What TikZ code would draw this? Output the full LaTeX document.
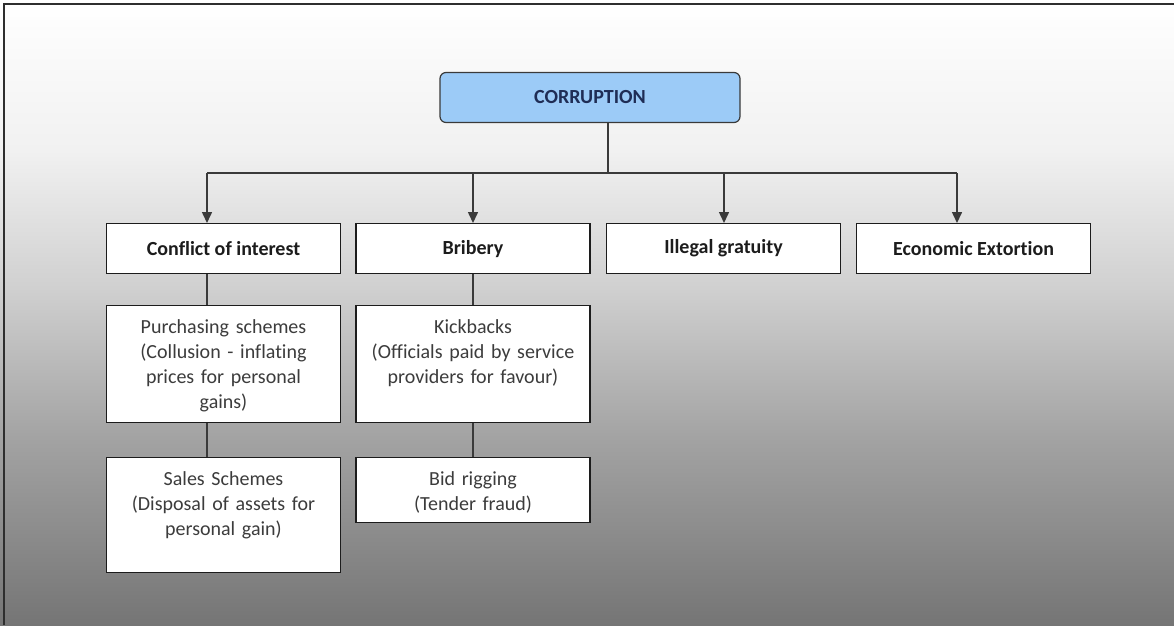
\documentclass[tikz,border=0pt]{standalone}
\usepackage{fontspec}
\setmainfont{Carlito}[Ligatures=NoCommon]
\usepackage{tikz}
\usetikzlibrary{arrows.meta, calc}
\usepackage{xcolor}
\definecolor{lineGray}{HTML}{3A3A3A}
\definecolor{frameGray}{HTML}{2E2E2E}
\definecolor{textGray}{HTML}{3C3C3C}
\definecolor{textDark}{HTML}{1C1C1C}
\definecolor{textNavy}{HTML}{1F2D55}
\definecolor{headBlue}{HTML}{9CCBF7}
\definecolor{shadeHigh}{HTML}{F1F1F1}
\definecolor{shadeMid}{HTML}{D0D0D0}
\definecolor{shadeLow}{HTML}{A3A3A3}
\definecolor{shadeBottom}{HTML}{757575}
\pgfdeclareverticalshading{PageShade}{100bp}{color(0bp)=(shadeBottom); color(25bp)=(shadeBottom); color(40bp)=(shadeLow); color(52bp)=(shadeMid); color(63bp)=(shadeHigh); color(75bp)=(white); color(100bp)=(white)}
\tikzset{
    BoxText/.style={font=\fontsize{20}{25}\selectfont},
    HeadBox/.style={BoxText, draw=lineGray, line width=1.2pt, fill=headBlue, rounded corners=6pt,
        minimum width=300pt, minimum height=50pt, inner sep=0pt, text=textNavy, font=\fontsize{20}{25}\selectfont\bfseries},
    TypeBox/.style={draw=textDark, line width=1.2pt, fill=white, minimum width=234pt, minimum height=50pt,
        inner sep=0pt, anchor=north, text=textDark, font=\fontsize{20}{25}\selectfont\bfseries},
    SchemeBox/.style={BoxText, draw=textDark, line width=1.2pt, fill=white, text width=234pt, align=center,
        inner sep=0pt, anchor=north, text=textGray, text height=27.5pt},
    LinkLine/.style={draw=lineGray, line width=1.5pt},
    LinkArrow/.style={LinkLine, -{Triangle[width=10pt, length=11pt]}}
}
\begin{document}
\begin{tikzpicture}[x=1pt, y=-1pt]
    % --- background page with grey fade ---
    \path[shading=PageShade] (0,0) rectangle (1174,625);
    \useasboundingbox (0,0) rectangle (1174,625);
    \draw[frameGray, line width=1.6pt] (4,625) -- (4,4) -- (1174,4);

    % top node
    \node[HeadBox] (corr) at (590, 97.5) {CORRUPTION};

    % types of corruption
    \node[TypeBox] (coi) at (223.5, 223) {Conflict of interest};
    \node[TypeBox] (brib) at (473, 223) {Bribery};
    \node[TypeBox] (grat) at (723.5, 223) {Illegal gratuity};
    \node[TypeBox] (ext) at (973.5, 223) {Economic Extortion};

    % schemes under each type
    \node[SchemeBox, text depth=89pt] (purch) at (223.5, 305) {Purchasing schemes\\(Collusion - inflating\\prices for personal\\gains)};
    \node[SchemeBox, text depth=89pt] (kick) at (473, 305) {Kickbacks\\(Officials paid by service\\providers for favour)};
    \node[SchemeBox, text depth=87pt] (sales) at (223.5, 457) {Sales Schemes\\(Disposal of assets for\\personal gain)};
    \node[SchemeBox, text depth=37pt] (bid) at (473, 457) {Bid rigging\\(Tender fraud)};

    % --- connectors ---
    \coordinate (hub) at (608, 173);
    \draw[LinkLine] (corr.south -| hub) -- (hub);
    \foreach \n/\x in {coi/207, brib/473, grat/724, ext/957} {
        \coordinate (\n Join) at (\x, 173);
        \draw[LinkArrow] (\n Join) -- (\n Join |- \n.north);
    }
    \draw[LinkLine] (coiJoin) -- (extJoin);

    \draw[LinkLine] (coiJoin |- coi.south) -- (coiJoin |- purch.north);
    \draw[LinkLine] (coiJoin |- purch.south) -- (coiJoin |- sales.north);
    \draw[LinkLine] (bribJoin |- brib.south) -- (bribJoin |- kick.north);
    \draw[LinkLine] (bribJoin |- kick.south) -- (bribJoin |- bid.north);
\end{tikzpicture}
\end{document}
